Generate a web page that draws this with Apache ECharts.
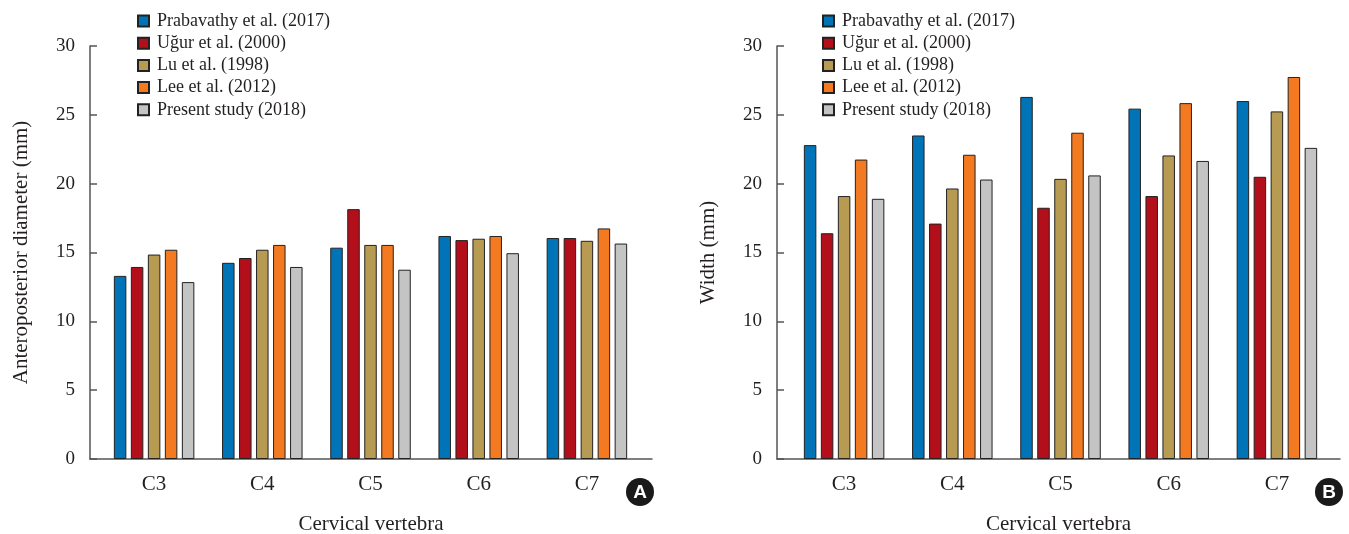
<!DOCTYPE html>
<html>
<head>
<meta charset="utf-8">
<script src="https://cdn.jsdelivr.net/npm/echarts@6/dist/echarts.min.js"></script>
<style>
html,body{margin:0;padding:0;background:#fff;}
#chart{width:1349px;height:534px;}
</style>
</head>
<body>
<div id="chart"></div>
<script>
// ---- data ----
var categories = ['C3', 'C4', 'C5', 'C6', 'C7'];
var seriesNames = ['Prabavathy et al. (2017)', 'Uğur et al. (2000)', 'Lu et al. (1998)', 'Lee et al. (2012)', 'Present study (2018)'];
var seriesColors = ['#0074b7', '#b30f1a', '#b89b52', '#f47a22', '#c4c4c4'];

// Panel A: Anteroposterior diameter (mm)
var apPrabavathy = [13.3, 14.25, 15.35, 16.2, 16.05];
var apUgur       = [13.95, 14.6, 18.15, 15.9, 16.05];
var apLu         = [14.85, 15.2, 15.55, 16.0, 15.85];
var apLee        = [15.2, 15.55, 15.55, 16.2, 16.75];
var apPresent    = [12.85, 13.95, 13.75, 14.95, 15.65];

// Panel B: Width (mm)
var wPrabavathy = [22.8, 23.5, 26.3, 25.45, 26.0];
var wUgur       = [16.4, 17.1, 18.25, 19.1, 20.5];
var wLu         = [19.1, 19.65, 20.35, 22.05, 25.25];
var wLee        = [21.75, 22.1, 23.7, 25.85, 27.75];
var wPresent    = [18.9, 20.3, 20.6, 21.65, 22.6];

var yMin = 0, yMax = 30, yInterval = 5;
var xAxisTitle = 'Cervical vertebra';
var yTitleA = 'Anteroposterior diameter (mm)';
var yTitleB = 'Width (mm)';

var panelA = [apPrabavathy, apUgur, apLu, apLee, apPresent];
var panelB = [wPrabavathy, wUgur, wLu, wLee, wPresent];

// ---- styling ----
var FONT = 'Liberation Serif';
var TXT = '#231f20';
var AXIS = '#555555';

function makeSeries(values, idx, xi, yi) {
  return {
    type: 'bar',
    name: seriesNames[idx],
    xAxisIndex: xi,
    yAxisIndex: yi,
    data: values,
    barWidth: 12.5,
    barGap: '36%',
    itemStyle: { color: seriesColors[idx], borderColor: '#222', borderWidth: 1 },
    emphasis: { disabled: true },
    animation: false
  };
}

var series = [];
panelA.forEach(function (v, i) { series.push(makeSeries(v, i, 0, 0)); });
panelB.forEach(function (v, i) { series.push(makeSeries(v, i, 2, 2)); });

function barX(gi) {
  return {
    type: 'category', gridIndex: gi, data: categories,
    axisLine: { show: false }, axisTick: { show: false },
    axisLabel: { fontFamily: FONT, fontSize: 21, color: TXT, margin: 15 }
  };
}
function frameX(gi) {
  return {
    type: 'value', gridIndex: gi, min: 0, max: 1,
    axisLine: { show: true, lineStyle: { color: AXIS, width: 1.5 } },
    axisTick: { show: false }, axisLabel: { show: false }, splitLine: { show: false },
    name: xAxisTitle, nameLocation: 'middle', nameGap: 55,
    nameTextStyle: { fontFamily: FONT, fontSize: 21, color: TXT }
  };
}
function barY(gi) {
  return { type: 'value', gridIndex: gi, min: yMin, max: yMax, interval: yInterval, show: false, splitLine: { show: false } };
}
function frameY(gi, title) {
  return {
    type: 'value', gridIndex: gi, min: yMin, max: yMax, interval: yInterval,
    axisLine: { show: true, lineStyle: { color: AXIS, width: 1.5 } },
    axisTick: { show: true, inside: true, length: 7, lineStyle: { color: AXIS, width: 1.5 } },
    axisLabel: { fontFamily: FONT, fontSize: 19, color: TXT, margin: 15 },
    splitLine: { show: false },
    name: title, nameLocation: 'middle', nameGap: 58,
    nameTextStyle: { fontFamily: FONT, fontSize: 21, color: TXT }
  };
}

function legend(left) {
  return {
    orient: 'vertical', left: left, top: 12, padding: 0,
    itemWidth: 11, itemHeight: 11, itemGap: 4.2,
    icon: 'rect',
    data: seriesNames,
    textStyle: { fontFamily: FONT, fontSize: 18, color: TXT, lineHeight: 17, padding: [0, 0, 0, 3] },
    selectedMode: false
  };
}

function badge(cx, cy, letter) {
  return {
    type: 'group',
    children: [
      { type: 'circle', shape: { cx: cx, cy: cy, r: 14 }, style: { fill: '#1a1a1a' } },
      { type: 'text', x: cx, y: cy + 1, style: { text: letter, fill: '#fff', font: 'bold 19px "Liberation Sans", Arial', align: 'center', verticalAlign: 'middle' } }
    ]
  };
}

function grid(left, width) {
  return { left: left, top: 46, width: width, height: 413, outerBoundsMode: 'none', containLabel: false };
}

var option = {
  backgroundColor: '#fff',
  animation: false,
  textStyle: { fontFamily: FONT },
  grid: [grid(100, 541), grid(90, 562), grid(790, 541), grid(777, 563)],
  xAxis: [barX(0), frameX(1), barX(2), frameX(3)],
  yAxis: [barY(0), frameY(1, yTitleA), barY(2), frameY(3, yTitleB)],
  legend: [legend(137), legend(822)],
  series: series,
  graphic: [badge(640, 492, 'A'), badge(1329, 492, 'B')]
};

var chart = echarts.init(document.getElementById('chart'), null, { renderer: 'canvas' });
chart.setOption(option);
</script>
</body>
</html>
